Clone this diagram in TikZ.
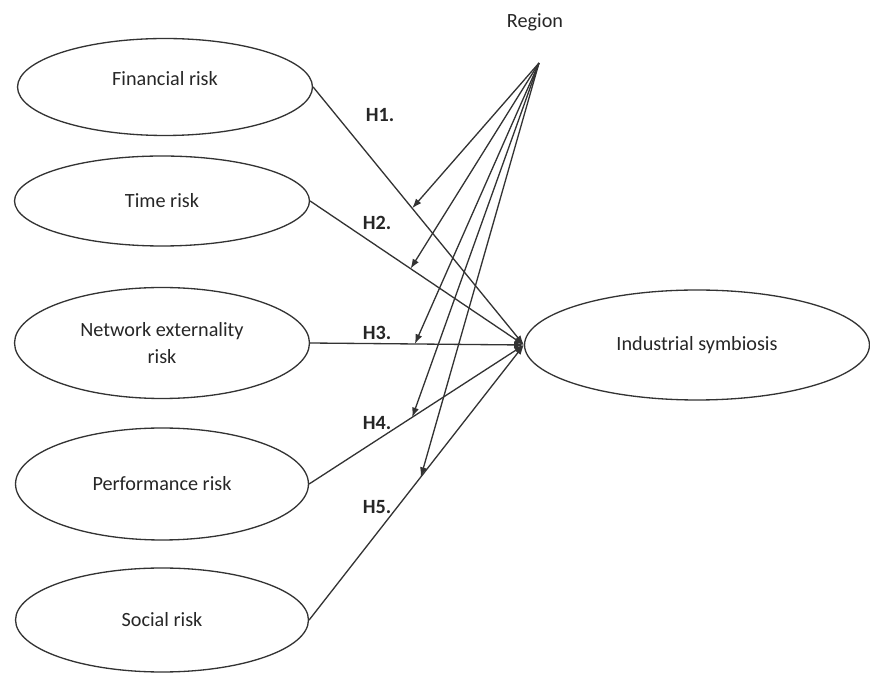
\documentclass[tikz,border=0pt]{standalone}
\usepackage{fontspec}
\setmainfont{Carlito}
\usetikzlibrary{shapes.geometric,arrows.meta,calc}
\colorlet{linegray}{black!80}
\colorlet{textgray}{black!85}

\begin{document}
\begin{tikzpicture}[x=0.02cm, y=-0.02cm,
  risk/.style={ellipse, draw=linegray, line width=0.75pt, inner sep=0pt,
    align=center, text=textgray, font=\fontsize{11.5}{15}\selectfont},
  link/.style={line width=0.75pt, draw=linegray, -{Latex[length=5.5pt,width=4pt]}},
  hyp/.style={text=textgray, font=\fontsize{11.5}{14}\selectfont\bfseries}]

\useasboundingbox (0,0) rectangle (870,675);

% risk factors
\node [risk, minimum width=5.9cm, minimum height=1.94cm, text depth=10pt] (fin) at (165,87) {Financial risk};
\node [risk, minimum width=5.9cm, minimum height=1.8cm] (tim) at (162,201) {Time risk};
\node [risk, minimum width=5.9cm, minimum height=2.22cm] (net) at (162,343) {Network externality\\risk};
\node [risk, minimum width=5.86cm, minimum height=2.24cm] (per) at (162,484) {Performance risk};
\node [risk, minimum width=5.86cm, minimum height=2.08cm] (soc) at (162,620) {Social risk};

% outcome
\node [risk, minimum width=6.9cm, minimum height=2.2cm] (ind) at (697,345) {Industrial symbiosis};

% moderator
\node [text=textgray, font=\fontsize{11.5}{14}\selectfont] (reg) at (535,22) {Region};
\coordinate (src) at (539,63);

% hypotheses
\foreach \n in {fin,tim,net,per,soc}
  \draw[link] (\n.east) -- (ind.west);

\foreach \n/\p in {fin/0.47,tim/0.47,net/0.49,per/0.48,soc/0.52}
  \draw[link] (src) -- ($(\n.east)!\p!(ind.west)$);

\node [hyp] (h1) at (380,115) {H1.};
\node [hyp] (h2) at (377,223) {H2.};
\node [hyp] (h3) at (377,333) {H3.};
\node [hyp] (h4) at (377,423) {H4.};
\node [hyp] (h5) at (377,507) {H5.};

\end{tikzpicture}
\end{document}
